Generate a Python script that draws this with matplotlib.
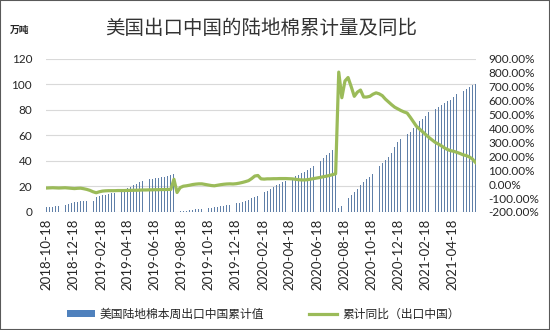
import matplotlib
matplotlib.use('Agg')
import matplotlib.pyplot as plt
from matplotlib.patches import Patch, Rectangle
from matplotlib.lines import Line2D
import pandas as pd

plt.rcParams['font.family'] = ['Lato', 'Noto Sans CJK SC', 'DejaVu Sans']

# weekly cumulative US upland cotton exports to China (10k tons), one list per marketing year
cum_2018 = [3.8, 4.1, 4.3, 4.5, 4.8, 5.2, 5.7, 6.3, 7.0, 7.6,
            8.0, 8.3, 8.5, 8.6, 8.7, 8.9, 11.5, 12.8, 13.3, 13.6,
            14.0, 14.6, 15.2, 16.0, 16.8, 17.6, 18.4, 19.5, 20.8, 22.0,
            23.2, 24.0, 24.8, 25.5, 26.0, 26.4, 26.8, 27.2, 27.6, 28.2,
            28.8, 29.4]
cum_2019 = [0.3, 0.5, 0.8, 1.1, 1.4, 1.7, 2.0, 2.2, 2.5, 2.9,
            3.2, 3.5, 3.8, 4.0, 4.4, 4.9, 5.3, 5.7, 6.3, 6.8,
            7.3, 8.0, 8.8, 9.7, 10.6, 11.8, 12.8, 14.0, 15.3, 16.8,
            18.2, 19.5, 21.0, 22.3, 23.3, 24.5, 25.8, 27.0, 28.0, 29.0,
            30.2, 31.5, 33.0, 34.5, 36.0, 37.5, 40.0, 42.5, 44.5, 46.5,
            48.5, 50.5]
cum_2020 = [3.0, 5.0, 8.0, 11.0, 13.5, 15.5, 18.0, 21.0, 23.5, 25.5,
            27.5, 30.0, 33.0, 36.0, 38.5, 40.5, 43.0, 46.0, 51.0, 55.0,
            57.5, 59.0, 61.0, 63.0, 65.5, 68.0, 71.0, 73.0, 75.0, 78.0,
            80.0, 81.0, 82.0, 83.5, 85.0, 86.5, 88.0, 90.0, 92.0, 93.5,
            95.0, 96.5, 98.0, 99.5, 100.5]

# cumulative year-on-year change (%)
yoy_2018 = [-28, -27, -26, -27, -28, -27, -26, -28, -30, -32,
            -30, -29, -33, -38, -45, -55, -62, -55, -50, -48,
            -47, -47, -47, -46, -46, -46, -45, -45, -44, -44,
            -43, -42, -42, -41, -41, -40, -40, -39, -39, -38,
            -38, 35]
yoy_2019 = [-60, -25, -15, -12, -8, -3, 0, 2, 2, -2,
            -6, -10, -12, -8, -4, -1, 1, 2, 1, 3,
            7, 12, 18, 25, 40, 58, 62, 38, 36, 38,
            38, 39, 39, 40, 40, 40, 39, 38, 35, 32,
            30, 30, 32, 36, 40, 44, 48, 53, 57, 62,
            68, 74]
yoy_2020 = [804, 620, 740, 765, 700, 630, 660, 675, 625, 625,
            630, 645, 655, 648, 635, 610, 590, 570, 552, 540,
            528, 518, 510, 480, 447, 415, 395, 375, 355, 335,
            318, 300, 288, 275, 260, 248, 240, 235, 228, 220,
            210, 205, 195, 180, 155]

cumulative = cum_2018 + cum_2019 + cum_2020
yoy = yoy_2018 + yoy_2019 + yoy_2020
dates = pd.date_range('2018-10-18', periods=len(cumulative), freq='7D')

tick_labels = ['2018-10-18', '2018-12-18', '2019-02-18', '2019-04-18',
               '2019-06-18', '2019-08-18', '2019-10-18', '2019-12-18',
               '2020-02-18', '2020-04-18', '2020-06-18', '2020-08-18',
               '2020-10-18', '2020-12-18', '2021-02-18', '2021-04-18']

title = '美国出口中国的陆地棉累计量及同比'
bar_label = '美国陆地棉本周出口中国累计值'
line_label = '累计同比（出口中国）'

bar_color = '#4f81bd'
thin_bar_color = '#5f7fa8'
line_color = '#9bbb59'
text_color = '#262626'

fig = plt.figure(figsize=(5.5, 3.3), dpi=100)
ax = fig.add_axes([46 / 550, 1 - 212 / 330, 430 / 550, 153.3 / 330])
ax2 = ax.twinx()

ax.bar(dates, cumulative, width=2.0, color=thin_bar_color, linewidth=0, zorder=2)
ax2.plot(dates, yoy, color=line_color, linewidth=2.3, solid_joinstyle='round', zorder=3)

ax.set_ylim(0, 120)
ax.set_yticks(range(0, 121, 20))
ax2.set_ylim(-200, 900)
ax2.set_yticks(range(-200, 901, 100))
ax2.set_yticklabels(['%.2f%%' % v for v in range(-200, 901, 100)])

ax.set_xlim(dates[0] - pd.Timedelta(days=1), dates[-1] + pd.Timedelta(days=1))
ax.set_xticks(pd.to_datetime(tick_labels))
ax.set_xticklabels(tick_labels, rotation=90)

ax.grid(axis='y', color='#d9d9d9', linewidth=0.8, zorder=0)
ax.set_axisbelow(True)
for a in (ax, ax2):
    for s in a.spines.values():
        s.set_visible(False)

ax.tick_params(axis='y', length=0, pad=10, labelsize=8.5, labelcolor=text_color)
ax.tick_params(axis='x', length=0, pad=5, labelsize=9.5, labelcolor=text_color)
ax2.tick_params(axis='y', length=0, pad=9, labelsize=8.5, labelcolor=text_color)

fig.text(261 / 550, 1 - 28 / 330, title, ha='center', va='center',
         fontsize=14, color='#333333')
fig.text(10 / 550, 1 - 30 / 330, '万吨', ha='left', va='center',
         fontsize=7, fontweight='bold', color=text_color)

handles = [Patch(facecolor=bar_color, edgecolor='none'),
           Line2D([], [], color=line_color, linewidth=2.3)]
fig.legend(handles, [bar_label, line_label], loc='center',
           bbox_to_anchor=(263 / 550, 1 - 314 / 330), ncol=2, frameon=False,
           fontsize=8.5, handlelength=2.4, handleheight=0.55, handletextpad=0.4,
           columnspacing=3.8, labelcolor=text_color)

# grey frame round the whole chart
fig.add_artist(Rectangle((0, 0), 1, 1, transform=fig.transFigure, fill=False,
                         edgecolor='#595959', linewidth=1.5))

fig.savefig('out.png', dpi=100)
